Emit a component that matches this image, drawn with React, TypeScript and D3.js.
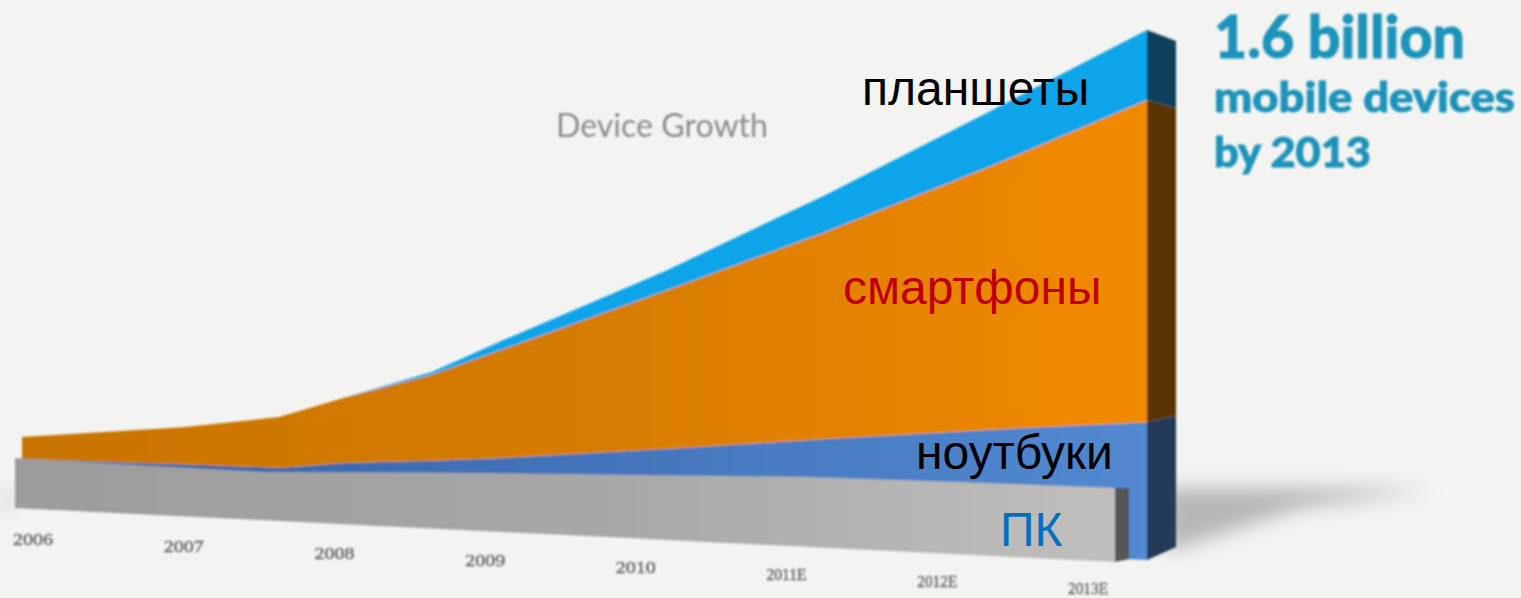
import React from "react";
import * as d3 from "d3";

// Stations along the time axis (fractional positions are the visible kinks)
const stations = [2006, 2007, 2007.6, 2008, 2008.55, 2009, 2010, 2011, 2012, 2013];
// Millions of devices
const pc = [151, 147, 146, 155, 167, 176, 193, 211, 219, 224];
const laptops = [148, 155, 157, 181, 200, 219, 268, 321, 371, 417];
const smartphones = [67, 112, 154, 197, 260, 330, 478, 626, 792, 974];
const tablets = [0, 0, 0, 0, 9, 27, 60, 112, 166, 212];
const yearLabels = ["2006", "2007", "2008", "2009", "2010", "2011E", "2012E", "2013E"];
const headline = ["1.6 billion", "mobile devices", "by 2013"];
const title = "Device Growth";
const seriesKeys = ["laptops", "smartphones", "tablets"];
const colors = { tablets: "#0aa4ea", tabletsSide: "#0b3f5c", smartphonesSide: "#5a3602", laptopsSide: "#243b58", pcSide: "#555555", teal: "#1b93ba" };

const W = 1521, H = 598;
const back = stations.map((s, i) => ({ s, laptops: laptops[i], smartphones: smartphones[i], tablets: tablets[i] }));
const stacked = d3.stack<any>().keys(seriesKeys)(back);

const domain: [number, number] = [2006, 2013];
const xBack = d3.scaleLinear().domain(domain).range([22, 1147]);
const gBack = d3.scaleLinear().domain(domain).range([508, 560]);
const xPc = d3.scaleLinear().domain(domain).range([15, 1115]);
const gPc = d3.scaleLinear().domain(domain).range([508, 562]);
const h = d3.scaleLinear().domain([0, 1600]).range([0, 529]);
const sideH = d3.scaleLinear().domain([0, 1600]).range([0, 505]);
const sideX = 1176, sideGround = 547;

const labelX = d3.scalePoint<string>().domain(yearLabels).range([33, 1088]);
const labelY = d3.scaleLinear().domain([0, yearLabels.length - 1]).range([545, 594]);

const area = d3.area<any>()
  .x((d) => xBack(d.data.s))
  .y0((d) => gBack(d.data.s) - h(d[0]))
  .y1((d) => gBack(d.data.s) - h(d[1]));
const pcArea = d3.area<number>()
  .x((_, i) => xPc(stations[i]))
  .y0((_, i) => gPc(stations[i]))
  .y1((d, i) => gPc(stations[i]) - h(d));

const poly = d3.line().curve(d3.curveLinearClosed);
const lastS = stations[stations.length - 1];
const sidePoly = (lo: number, hi: number) =>
  poly([
    [xBack(lastS), gBack(lastS) - h(lo)],
    [xBack(lastS), gBack(lastS) - h(hi)],
    [sideX, sideGround - sideH(hi)],
    [sideX, sideGround - sideH(lo)],
  ]) as string;
const lastStack = stacked.map((s) => s[s.length - 1]);
const lastPc = pc[pc.length - 1];
const pcSidePath = poly([
  [xPc(lastS), gPc(lastS)],
  [xPc(lastS), gPc(lastS) - h(lastPc)],
  [1129, gPc(lastS) - h(lastPc)],
  [1129, gPc(lastS) - 3],
]) as string;

const ruLabels = [
  { t: "планшеты", x: 862, y: 105, c: "#000000" },
  { t: "смартфоны", x: 843, y: 304, c: "#c00000" },
  { t: "ноутбуки", x: 916, y: 469, c: "#000000" },
  { t: "ПК", x: 1000, y: 546, c: "#0070c0" },
];

export default function App() {
  return (
    <svg width={W} height={H} viewBox={`0 0 ${W} ${H}`} style={{ position: "fixed", left: 0, top: 0, display: "block" }}>
      <defs>
        <filter id="b1" x="-5%" y="-5%" width="110%" height="110%"><feGaussianBlur stdDeviation="1" /></filter>
        <filter id="b08" x="-10%" y="-30%" width="120%" height="160%"><feGaussianBlur stdDeviation="0.9" /></filter>
        <filter id="shadow" x="-30%" y="-50%" width="160%" height="200%"><feGaussianBlur stdDeviation="10" /></filter>
        <linearGradient id="orange" gradientUnits="userSpaceOnUse" x1="22" x2="1147" y1="0" y2="0">
          <stop offset="0" stopColor="#c87400" /><stop offset="0.5" stopColor="#d67c00" /><stop offset="1" stopColor="#f28a02" />
        </linearGradient>
        <linearGradient id="blue" gradientUnits="userSpaceOnUse" x1="250" x2="1147" y1="0" y2="0">
          <stop offset="0" stopColor="#3a68ad" /><stop offset="1" stopColor="#5289d1" />
        </linearGradient>
        <linearGradient id="gray" gradientUnits="userSpaceOnUse" x1="15" x2="1115" y1="0" y2="0">
          <stop offset="0" stopColor="#9c9c9c" /><stop offset="0.55" stopColor="#a8a8a8" /><stop offset="1" stopColor="#c0bfbd" />
        </linearGradient>
      </defs>
      <rect width={W} height={H} fill="#f3f3f1" />
      <g filter="url(#shadow)">
        <path d={poly([[sideX - 10, 488], [1300, 488], [1430, 490], [1300, 508], [sideX - 10, 552]]) as string} fill="#b6b6b5" />
      </g>
      <g filter="url(#shadow)" opacity={0.35}>
        <path d={poly([[2, 490], [15, 490], [15, 510], [2, 510]]) as string} fill="#999" />
      </g>
      <g filter="url(#b1)">
        <path d={area(stacked[0] as any) as string} fill="url(#blue)" />
        <path d={area(stacked[1] as any) as string} fill="url(#orange)" />
        <path d={area(stacked[2] as any) as string} fill={colors.tablets} />
        <path d={sidePoly(0, lastStack[0][1])} fill={colors.laptopsSide} />
        <path d={sidePoly(lastStack[1][0], lastStack[1][1])} fill={colors.smartphonesSide} />
        <path d={sidePoly(lastStack[2][0], lastStack[2][1])} fill={colors.tabletsSide} />
        <path d={pcArea(pc) as string} fill="url(#gray)" />
        <path d={pcSidePath} fill={colors.pcSide} />
      </g>
      <g filter="url(#b08)">
        <text x={556} y={137} fontFamily="Lato, 'Open Sans', sans-serif" fontSize={33} fill="#8c8c8c" textLength={212} lengthAdjust="spacingAndGlyphs">{title}</text>
      </g>
      <g filter="url(#b08)" fill="#666666" fontFamily="'Liberation Serif', serif" fontSize={16} stroke="#666666" strokeWidth={0.4}>
        {yearLabels.map((l, i) => (
          <text key={l} x={labelX(l)} y={labelY(i)} textAnchor="middle" textLength={40} lengthAdjust="spacingAndGlyphs">{l}</text>
        ))}
      </g>
      <g filter="url(#b08)" fill={colors.teal} stroke={colors.teal} strokeWidth={0.8} fontFamily="Lato, sans-serif" fontWeight={900}>
        <text x={1214} y={58} fontSize={59} textLength={251} lengthAdjust="spacingAndGlyphs">{headline[0]}</text>
        <text x={1214} y={112} fontSize={41} textLength={301} lengthAdjust="spacingAndGlyphs">{headline[1]}</text>
        <text x={1214} y={167} fontSize={41} textLength={157} lengthAdjust="spacingAndGlyphs">{headline[2]}</text>
      </g>
      <g fontFamily="'Liberation Sans', Arial, sans-serif" fontSize={48}>
        {ruLabels.map((d) => (
          <text key={d.t} x={d.x} y={d.y} fill={d.c}>{d.t}</text>
        ))}
      </g>
    </svg>
  );
}
